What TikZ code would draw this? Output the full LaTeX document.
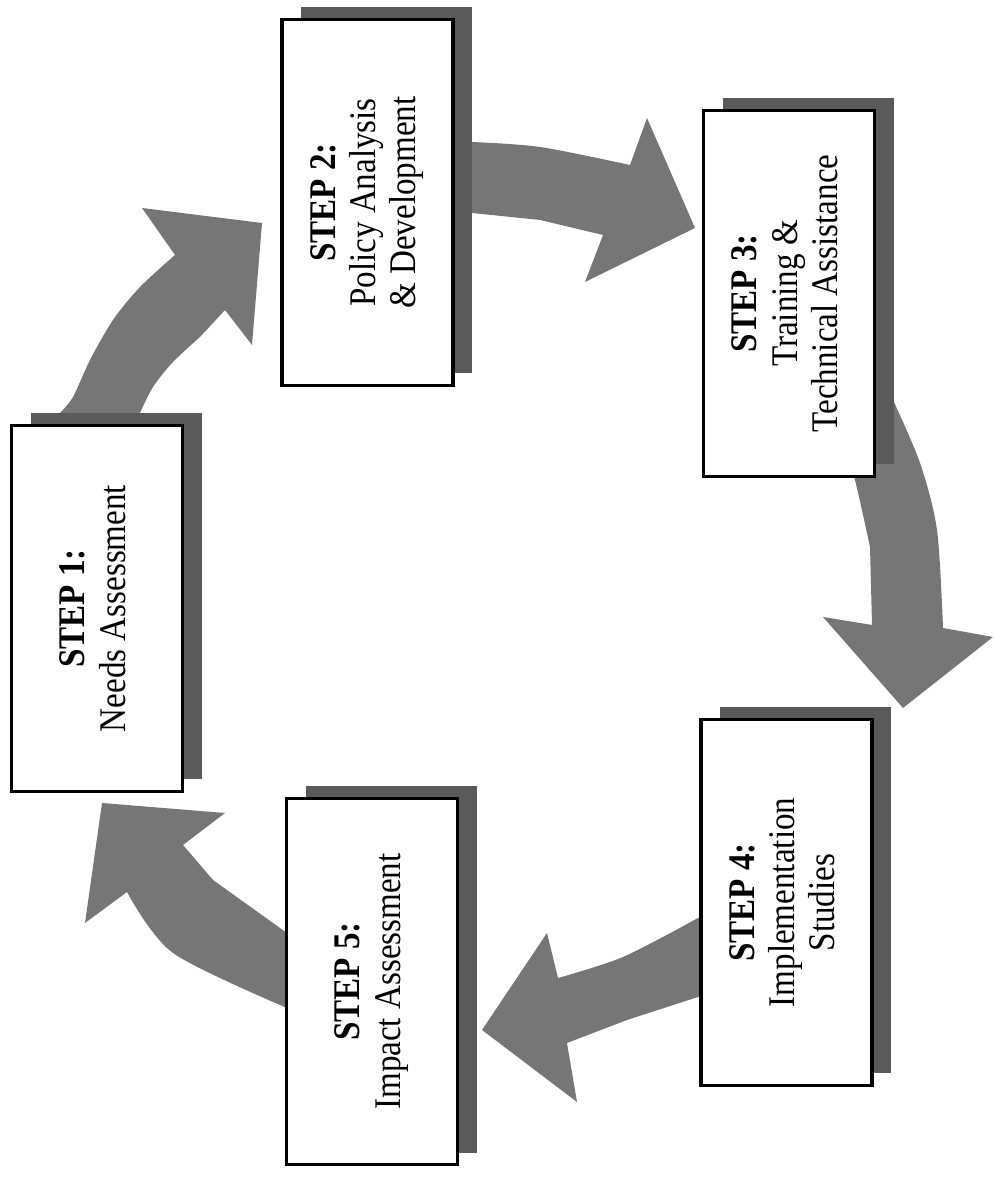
\documentclass[tikz,border=0pt]{standalone}
\usepackage{fontspec}
\setmainfont{Liberation Serif}[FakeStretch=0.88]
\usepackage{xcolor}
\definecolor{arrowgray}{RGB}{118,118,118}
\definecolor{shadowgray}{RGB}{90,90,90}
\usepackage{tikz}
\usetikzlibrary{shadows}

\newcommand{\steptext}[1]{\rotatebox{90}{\fontsize{10.7}{11.4}\selectfont\begin{tabular}{@{}c@{}}#1\end{tabular}}}

\begin{document}
\begin{tikzpicture}[
    stepbox/.style={draw, line width=0.9pt, fill=white, minimum width=1.71cm, minimum height=3.66cm, inner sep=0pt,
        general shadow={fill=shadowgray, shadow xshift=0.19cm, shadow yshift=0.12cm}},
    blockarrow/.style={fill=arrowgray}
]
    \useasboundingbox (0,0) rectangle (9.94,11.87);

    % curved block arrows, drawn first so the boxes sit on top
    \fill[blockarrow] (0.58,7.47) -- plot[smooth] coordinates {(0.60,7.74) (0.73,7.90) (0.90,8.27) (1.13,8.67) (1.40,9.00) (1.75,9.32)}
        -- (1.42,9.79) -- (2.62,9.64) -- (2.52,8.42) -- (2.25,8.77)
        -- plot[smooth] coordinates {(2.00,8.50) (1.73,8.25) (1.53,8.00) (1.40,7.74)} -- (1.38,7.47) -- cycle;
    \fill[blockarrow] (4.55,10.45) -- plot[smooth] coordinates {(4.72,10.45) (5.40,10.40) (6.30,10.22)}
        -- (6.47,10.69) -- (6.95,9.59) -- (5.85,9.05) -- (6.03,9.52)
        -- plot[smooth] coordinates {(5.40,9.67) (4.72,9.74)} -- (4.55,9.74) -- cycle;
    \fill[blockarrow] (8.90,7.97) -- plot[smooth] coordinates {(8.93,7.87) (9.20,7.24) (9.37,6.57) (9.43,5.59)}
        -- (9.93,5.50) -- (9.03,4.79) -- (8.23,5.70) -- (8.72,5.62)
        -- plot[smooth] coordinates {(8.70,6.40) (8.55,7.07) (8.45,7.37)} -- cycle;
    \fill[blockarrow] (7.15,2.75) -- plot[smooth] coordinates {(6.98,2.69) (6.23,2.30) (5.58,2.09)}
        -- (5.47,2.54) -- (4.82,1.57) -- (5.77,0.85) -- (5.67,1.44)
        -- plot[smooth] coordinates {(6.27,1.67) (6.98,1.90)} -- (7.15,1.94) -- cycle;
    \fill[blockarrow] (3.00,1.72) -- plot[smooth] coordinates {(2.87,1.79) (1.73,2.34) (1.27,2.95)}
        -- (0.85,2.64) -- (1.02,3.84) -- (2.25,3.74) -- (1.83,3.42)
        -- plot[smooth] coordinates {(2.13,3.07) (2.87,2.54)} -- (3.00,2.47) -- cycle;

    % the five steps
    \node[stepbox] (step1) at (0.97,5.785) {\steptext{\textbf{STEP 1:}\\Needs Assessment}};
    \node[stepbox] (step2) at (3.675,9.845) {\steptext{\textbf{STEP 2:}\\Policy Analysis\\\& Development}};
    \node[stepbox] (step3) at (7.89,8.935) {\steptext{\textbf{STEP 3:}\\Training \&\\Technical Assistance}};
    \node[stepbox] (step4) at (7.865,2.845) {\steptext{\textbf{STEP 4:}\\Implementation\\Studies}};
    \node[stepbox] (step5) at (3.72,2.055) {\steptext{\textbf{STEP 5:}\\Impact Assessment}};
\end{tikzpicture}
\end{document}
